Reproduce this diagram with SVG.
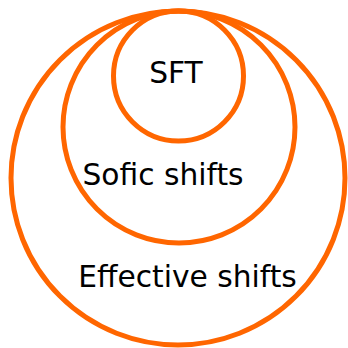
<svg xmlns="http://www.w3.org/2000/svg" width="348" height="348" viewBox="0 0 348 348">
<style>
.c{fill:none;stroke:#FF6600;stroke-width:5}
.t{font-family:"DejaVu Sans",sans-serif;font-size:29.7px;fill:#000;text-anchor:middle}
</style>
<rect width="348" height="348" fill="#fff"/>
<g id="effective"><circle class="c" cx="178" cy="178" r="167"/><text class="t" x="187.5" y="287">Effective shifts</text></g>
<g id="sofic"><circle class="c" cx="179" cy="127" r="116"/><text class="t" x="163" y="185">Sofic shifts</text></g>
<g id="sft"><circle class="c" cx="178.5" cy="76" r="65"/><text class="t" x="176" y="83">SFT</text></g>
<g id="connectors"></g>
</svg>
